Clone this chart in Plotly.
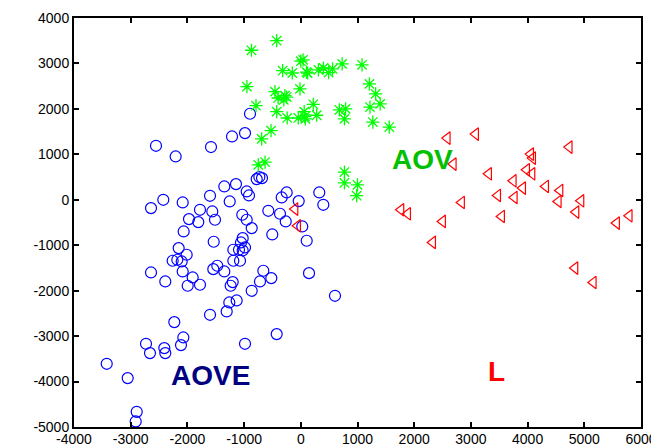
import plotly.graph_objects as go

# AOVE (blue circles)
aove_x = [-896, -1213, -984, -2554, -2207, -1584, -778, -731, -684, -1349, -1143, -954, -914, -1601,
          -1254, -337, -249, 326, 397, -37, -2425, -2642, -2083, -1778, -1972, -1808, -1561, -1513,
          -1032, -954, -573, -367, -266, 26, -866, -2066, -503, 104, 145, 603, -1536,
          -1025, -1055, -984, -1190, -1090, -1025, -1190, -1072, -2154, -2013, -2260, -2178, -2101,
          -2642, -2390, -2083, -1907, -1778, -1995, -1543, -1473, -1349, -1201, -1237, -866,
          -720, -661, -520, -1131, -1261, -1307, -1601, -2231, -2072, -2113, -2730, -2660,
          -2407, -2390, -984, -425, -3423, -3053, -2894, -2912]
aove_y = [1893, 1393, 1467, 1188, 953, 1160, 455, 500, 477, 293, 345, 183, 95, 88,
          -37, 51, 161, 161, -110, -29, 0, -183, -59, -220, -425, -491, -257, -440,
          -330, -440, -242, -308, -477, -587, -623, -697, -763, -902, -1614, -2113, -924,
          -844, -939, -1049, -1100, -1100, -1115, -1342, -1342, -1063, -1210, -1342, -1320, -1357,
          -1599, -1797, -1577, -1709, -1870, -1892, -1526, -1452, -1577, -1812, -1892, -2003,
          -1797, -1562, -1724, -2215, -2259, -2457, -2531, -2692, -3030, -3198, -3169, -3374,
          -3264, -3374, -3169, -2956, -3609, -3924, -4666, -4878]

# AOV (green stars)
aov_x = [-870, -425, 0, 40, -320, -150, 100, 120, 310, 400, 490, 560, 730, 1080, -950, -455,
         -400, -280, -250, -300, -15, -790, -425, -240, -45, 60, 70, 80, 220, 280, 680, 790,
         770, -525, -690, -750, -630, 770, 770, 1000, 985, 1210, 1320, 1220, 1400, 1270, 1560]
aov_y = [3290, 3500, 3050, 3080, 2840, 2790, 2810, 2790, 2860, 2900, 2800, 2880, 2990, 2970, 2490, 2380,
         2240, 2290, 2260, 2200, 2440, 2070, 1940, 1800, 1800, 1940, 1830, 1780, 2100, 1860, 1980, 2000,
         1780, 1520, 1340, 770, 830, 610, 370, 330, 90, 2550, 2330, 2040, 2110, 1710, 1600]

# L (red triangles)
l_x = [2584, 3084, 2690, 4735, 4055, 4090, 3313, 3984, 4078, 3748, 3914, 3473, 3766, 4319,
       4572, 4542, 4942, 4854, 2836, 1767, 1885, 2501, 3542, 2326, 5570, 5793, 4836, 5159,
       -102, -55]
l_y = [1357, 1445, 786, 1159, 1005, 917, 572, 660, 572, 418, 257, 95, 51, 293,
       205, -37, -22, -271, -59, -220, -308, -477, -367, -939, -513, -352, -1503, -1820,
       -205, -572]

labels = ["AOVE", "AOV", "L"]
label_x = [-1584, 2155, 3460]
label_y = [-3873, 880, -3785]
label_colors = ["#000080", "#00c000", "#ff0000"]

x_ticks = list(range(-4000, 6001, 1000))
y_ticks = list(range(-5000, 4001, 1000))

fig = go.Figure()
fig.add_trace(go.Scatter(x=aove_x, y=aove_y, mode="markers",
                         marker=dict(symbol="circle-open", size=11, color="#0000ff", line=dict(width=1.2))))
fig.add_trace(go.Scatter(x=aov_x, y=aov_y, mode="markers",
                         marker=dict(symbol="asterisk-open", size=11, color="#00ff00", line=dict(width=1.3))))
fig.add_trace(go.Scatter(x=l_x, y=l_y, mode="markers",
                         marker=dict(symbol="triangle-left-open", size=11, color="#ff0000", line=dict(width=1.2))))

for t, x, y, c in zip(labels, label_x, label_y, label_colors):
    fig.add_annotation(x=x, y=y, text="<b>%s</b>" % t, showarrow=False,
                       font=dict(family="Liberation Sans, Arial", size=28, color=c))

axis_common = dict(showgrid=False, zeroline=False, showline=True, linecolor="#000000", linewidth=2,
                   mirror="allticks", ticks="inside", ticklen=5, tickcolor="#000000", tickwidth=1.5,
                   tickfont=dict(family="Liberation Sans, Arial", size=14, color="black"))
fig.update_xaxes(range=[-4000, 6000], tickvals=x_ticks, ticktext=[str(v) for v in x_ticks],
                 ticklabelstandoff=-2, **axis_common)
fig.update_yaxes(range=[-5000, 4000], tickvals=y_ticks, ticktext=[str(v) for v in y_ticks],
                 ticklabelstandoff=0, **axis_common)

fig.update_layout(width=651, height=439, showlegend=False,
                  margin=dict(l=66, r=18, t=10, b=20, autoexpand=False),
                  plot_bgcolor="white", paper_bgcolor="white")
fig.write_html("out.html")
